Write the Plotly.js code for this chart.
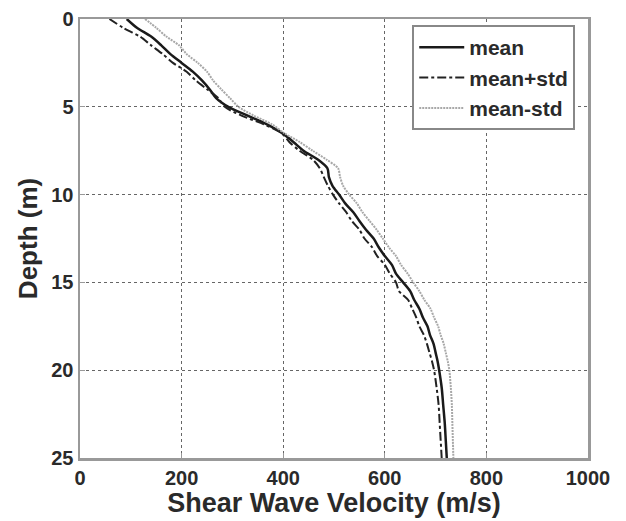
<!DOCTYPE html>
<html>
<head>
<meta charset="utf-8">
<script src="https://cdn.plot.ly/plotly-3.0.1.min.js"></script>
<style>html,body{margin:0;padding:0;background:#fff;}#chart{width:626px;height:521px;}</style>
</head>
<body>
<div id="chart"></div>
<script>
var depth = [0,0.5,1,1.5,2,2.5,3,3.5,4,4.5,5,5.5,6,6.5,7,7.5,8,8.5,9,9.5,10,10.5,11,11.5,12,12.5,13,13.5,14,14.5,15,15.5,16,16.5,17,17.5,18,18.5,19,19.5,20,21,22,23,24,25];
var meanV = [92,112,140,160,178,200,222,240,255,268,292,330,368,398,420,440,468,487,490,497,510,522,538,550,563,578,588,600,614,622,636,650,658,668,675,684,689,696,700,704,707,712,715,718,720,722];
var meanPlusStd = [58,85,118,140,163,183,210,228,250,272,285,318,362,397,412,432,458,472,480,488,498,510,524,535,550,560,575,585,600,610,622,628,646,654,662,668,677,683,688,693,697,702,706,708,710,712];
var meanMinusStd = [128,150,170,195,210,232,250,262,278,295,312,342,378,402,432,458,485,508,512,518,530,545,556,570,584,596,608,622,632,645,656,668,678,690,697,705,710,716,720,724,727,730,732,733,734,735];
var seriesNames = ['mean','mean+std','mean-std'];
var xTicks = [0,200,400,600,800,1000];
var yTicks = [0,5,10,15,20,25];

var traces = [
  {x: meanV, y: depth, name: seriesNames[0], mode: 'lines', line: {color: '#1a1a1a', width: 2.5, shape: 'spline', smoothing: 0.8}},
  {x: meanPlusStd, y: depth, name: seriesNames[1], mode: 'lines', line: {color: '#222', width: 2, dash: 'dashdot', shape: 'spline', smoothing: 0.8}},
  {x: meanMinusStd, y: depth, name: seriesNames[2], mode: 'lines', line: {color: '#a8a8a8', width: 2, dash: '2px,1px', shape: 'spline', smoothing: 0.8}}
];
var fontFam = 'Liberation Sans, Arial, sans-serif';
var txt = '#2a2a2a';
var layout = {
  width: 626, height: 521,
  margin: {l: 80, r: 38, t: 19, b: 63},
  paper_bgcolor: '#fff', plot_bgcolor: '#fff',
  showlegend: true,
  legend: {x: 0.654, y: 0.986, xanchor: 'left', yanchor: 'top', bgcolor: '#fff', bordercolor: '#888', borderwidth: 2,
           itemwidth: 45,
           font: {family: fontFam, size: 21, color: txt, weight: 'bold'}, tracegroupgap: 0},
  xaxis: {range: [0, 1000], tickvals: xTicks, ticktext: xTicks.map(String), showgrid: true, gridcolor: '#666', griddash: '3px,3px', gridwidth: 1,
          zeroline: false, showline: true, mirror: true, linecolor: '#999', linewidth: 2.5, ticks: 'inside', ticklen: 5, tickcolor: '#999',
          tickfont: {family: fontFam, size: 20, color: txt, weight: 'bold'},
          title: {text: 'Shear Wave Velocity (m/s)', font: {family: fontFam, size: 27, color: txt, weight: 'bold'}, standoff: 2}},
  yaxis: {range: [25, 0], tickvals: yTicks, ticktext: yTicks.map(String), showgrid: true, gridcolor: '#666', griddash: '3px,3px', gridwidth: 1,
          zeroline: false, showline: true, mirror: true, linecolor: '#999', linewidth: 2.5, ticks: 'inside', ticklen: 5, tickcolor: '#999',
          tickfont: {family: fontFam, size: 20, color: txt, weight: 'bold'},
          title: {text: 'Depth (m)', font: {family: fontFam, size: 26, color: txt, weight: 'bold'}, standoff: 6}}
};
Plotly.newPlot('chart', traces, layout, {staticPlot: true, displayModeBar: false});
</script>
</body>
</html>
